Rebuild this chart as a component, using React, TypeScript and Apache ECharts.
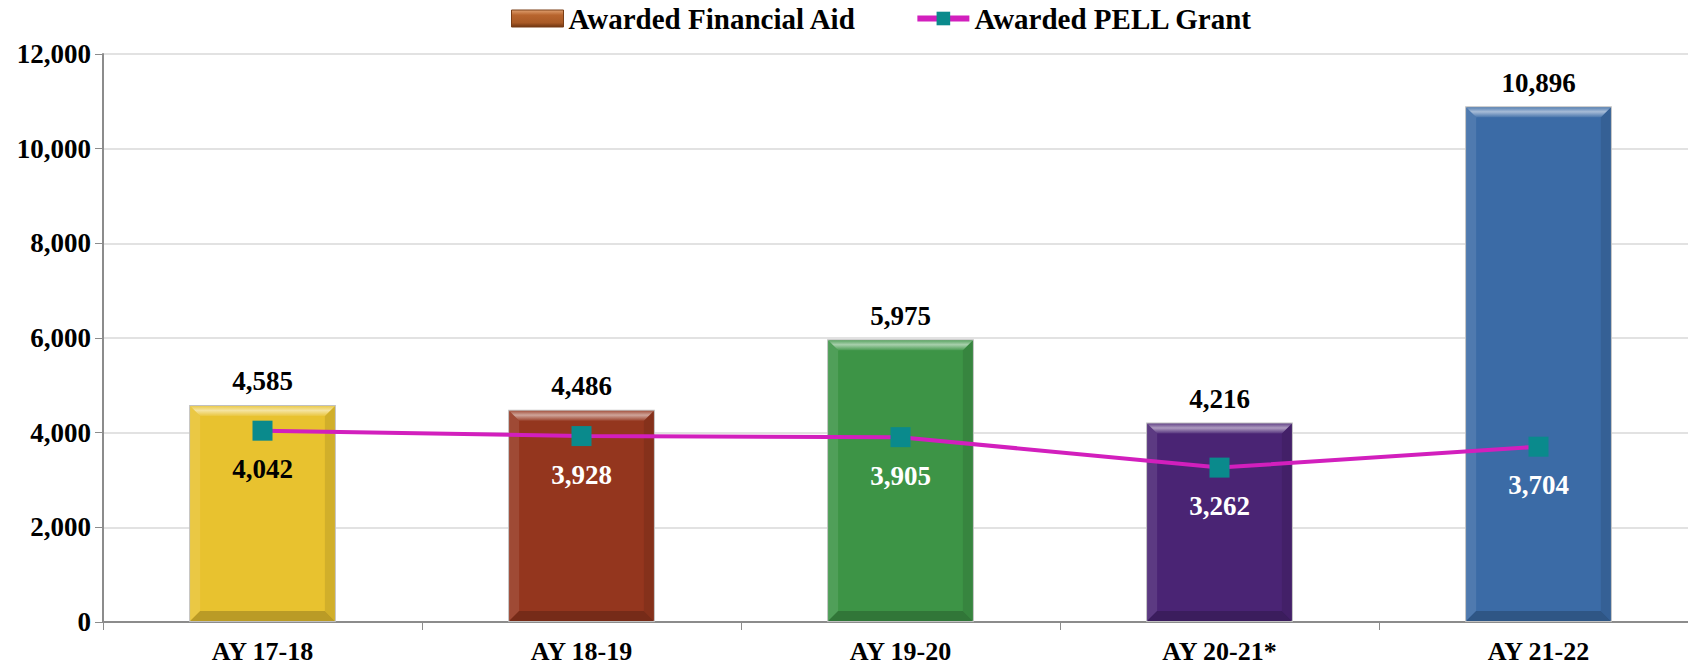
import React, { useEffect, useRef } from "react";
import * as echarts from "echarts";

const categories = ["AY 17-18", "AY 18-19", "AY 19-20", "AY 20-21*", "AY 21-22"];
const financialAid = [4585, 4486, 5975, 4216, 10896];
const pellGrant = [4042, 3928, 3905, 3262, 3704];
const barColors = ["#e8c22f", "#94361e", "#3d9446", "#4a2474", "#3b6ba6"];
const pellLabelColors = ["#000000", "#ffffff", "#ffffff", "#ffffff", "#ffffff"];
const yTicks = { min: 0, max: 12000, interval: 2000 };

const FONT = "'Liberation Serif', 'DejaVu Serif', serif";
const BAR_RATIO = 0.46;

function shade(hex: string, f: number) {
  const n = parseInt(hex.slice(1), 16);
  let r = (n >> 16) & 255, g = (n >> 8) & 255, b = n & 255;
  if (f >= 0) {
    r = Math.round(r + (255 - r) * f);
    g = Math.round(g + (255 - g) * f);
    b = Math.round(b + (255 - b) * f);
  } else {
    r = Math.round(r * (1 + f));
    g = Math.round(g * (1 + f));
    b = Math.round(b * (1 + f));
  }
  return `rgb(${r},${g},${b})`;
}

const fmt = (v: number) => v.toLocaleString("en-US");

export default function App() {
  const ref = useRef<HTMLDivElement>(null);
  useEffect(() => {
    document.body.style.margin = "0";
    document.body.style.overflow = "hidden";
    const chart = echarts.init(ref.current!, null, { renderer: "svg" });
    chart.setOption({
      animation: false,
      textStyle: { fontFamily: FONT },
      legend: {
        top: 4,
        left: 511,
        padding: 0,
        itemWidth: 52,
        itemHeight: 17,
        itemGap: 58,
        textStyle: { fontFamily: FONT, fontSize: 29, fontWeight: "bold", color: "#000" },
        data: [
          {
            name: "Awarded Financial Aid",
            icon: "rect",
            itemStyle: {
              color: new echarts.graphic.LinearGradient(0, 0, 0, 1, [
                { offset: 0, color: "#e0a070" },
                { offset: 0.3, color: "#b8652e" },
                { offset: 0.75, color: "#a95a26" },
                { offset: 1, color: "#6e3410" },
              ]),
              borderColor: "#7a3e16",
              borderWidth: 1,
            },
          },
          {
            name: "Awarded PELL Grant",
            itemStyle: { color: "#0a8a8c" },
            lineStyle: { color: "#d21fbd", width: 6 },
          },
        ],
      },
      grid: {
        left: 103,
        right: -10,
        top: 54,
        bottom: 44,
        containLabel: false,
        outerBoundsMode: "none",
      },
      xAxis: {
        type: "category",
        data: categories,
        axisLine: { lineStyle: { color: "#8c8c8c", width: 2 } },
        axisTick: { show: true, alignWithLabel: false, length: 8, lineStyle: { color: "#8c8c8c" } },
        axisLabel: { fontFamily: FONT, fontSize: 26, fontWeight: "bold", color: "#000", margin: 16 },
      },
      yAxis: {
        type: "value",
        min: yTicks.min,
        max: yTicks.max,
        interval: yTicks.interval,
        axisLine: { show: true, lineStyle: { color: "#8c8c8c", width: 2 } },
        axisTick: { show: true, length: 8, lineStyle: { color: "#8c8c8c" } },
        splitLine: { lineStyle: { color: "#d9d9d9", width: 1.5 } },
        axisLabel: {
          fontFamily: FONT,
          fontSize: 27,
          fontWeight: "bold",
          color: "#000",
          margin: 12,
          formatter: (v: number) => fmt(v),
        },
      },
      series: [
        {
          name: "Awarded Financial Aid",
          type: "bar",
          z: 2,
          barWidth: BAR_RATIO * 100 + "%",
          itemStyle: { color: "#b8652e", borderColor: "#bfbfbf", borderWidth: 1.5 },
          label: {
            show: true,
            position: "top",
            distance: 10,
            fontFamily: FONT,
            fontSize: 27,
            fontWeight: "bold",
            color: "#000",
            formatter: (p: any) => fmt(p.value),
          },
          data: financialAid.map((v, i) => ({
            value: v,
            itemStyle: { color: barColors[i], borderColor: "#c0c0c0" },
          })),
        },
        {
          name: "bevel",
          type: "custom",
          coordinateSystem: "cartesian2d",
          silent: true,
          z: 3,
          clip: false,
          encode: { x: 0, y: 1 },
          data: financialAid.map((v, i) => [i, v]),
          renderItem: (params: any, api: any) => {
            const i = api.value(0);
            const top = api.coord([i, api.value(1)]);
            const base = api.coord([i, 0]);
            const w = api.size([1, 0])[0] * BAR_RATIO;
            const x0 = top[0] - w / 2 + 1;
            const x1 = top[0] + w / 2 - 1;
            const y0 = top[1] + 1;
            const yb = base[1] - 1;
            const b = 10;
            const c = barColors[params.dataIndex];
            return {
              type: "group",
              children: [
                {
                  type: "polygon",
                  shape: { points: [[x0, y0], [x0 + b, y0 + b], [x0 + b, yb - b], [x0, yb]] },
                  style: { fill: shade(c, 0.1) },
                },
                {
                  type: "polygon",
                  shape: { points: [[x1, y0], [x1 - b, y0 + b], [x1 - b, yb - b], [x1, yb]] },
                  style: { fill: shade(c, -0.1) },
                },
                {
                  type: "polygon",
                  shape: { points: [[x0, yb], [x0 + b, yb - b], [x1 - b, yb - b], [x1, yb]] },
                  style: { fill: shade(c, -0.2) },
                },
                {
                  type: "polygon",
                  shape: { points: [[x0, y0], [x1, y0], [x1 - b, y0 + b], [x0 + b, y0 + b]] },
                  style: {
                    fill: new echarts.graphic.LinearGradient(0, 0, 0, 1, [
                      { offset: 0, color: shade(c, 0.15) },
                      { offset: 0.45, color: shade(c, 0.55) },
                      { offset: 1, color: shade(c, 0.08) },
                    ]),
                  },
                },
              ],
            };
          },
        },
        {
          name: "Awarded PELL Grant",
          type: "line",
          symbol: "rect",
          symbolSize: 20,
          z: 4,
          itemStyle: { color: "#0a8a8c" },
          lineStyle: { color: "#d21fbd", width: 4 },
          label: {
            show: true,
            position: "bottom",
            distance: 15,
            fontFamily: FONT,
            fontSize: 27,
            fontWeight: "bold",
            formatter: (p: any) => fmt(p.value),
          },
          data: pellGrant.map((v, i) => ({ value: v, label: { color: pellLabelColors[i] } })),
        },
      ],
    });
    return () => chart.dispose();
  }, []);
  return <div ref={ref} style={{ width: 1688, height: 666 }} />;
}
